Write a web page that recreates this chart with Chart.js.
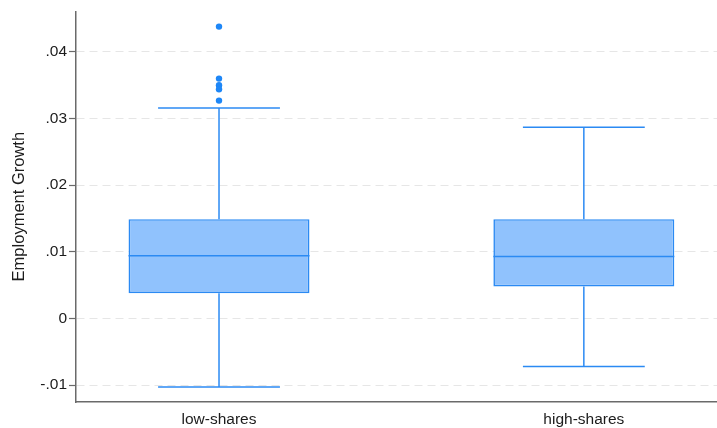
<!DOCTYPE html>
<html>
<head>
<meta charset="utf-8">
<script src="https://cdn.jsdelivr.net/npm/chart.js@4/dist/chart.umd.min.js"></script>
<style>
  html, body { margin: 0; padding: 0; background: #ffffff; }
  #wrap { width: 717px; height: 428px; }
</style>
</head>
<body>
<div id="wrap"><canvas id="c" width="717" height="428"></canvas></div>
<script>
// Box plot summary per group
const categories  = ['low-shares', 'high-shares'];
const whiskerLow  = [-0.0103, -0.0072];
const q1          = [0.0038, 0.0048];
const median      = [0.0094, 0.0093];
const q3          = [0.0149, 0.0149];
const whiskerHigh = [0.0316, 0.0287];
const outliers    = [[0.0438, 0.0360, 0.0350, 0.0344, 0.0327], []];

// Y axis ticks and their labels
const yTicks      = [-0.01, 0, 0.01, 0.02, 0.03, 0.04];
const yTickLabels = ['-.01', '0', '.01', '.02', '.03', '.04'];

const STROKE = '#2b8af3';
const FILL = '#90c2fd';
const POINT = '#1e87f7';
const BOX_HALF = 0.248;  // half box width, x units
const CAP_HALF = 0.167;  // half whisker-cap width, x units

const datasets = [];

// boxes as floating bars from Q1 to Q3
datasets.push({
  type: 'bar',
  data: categories.map((c, i) => ({ x: i + 1, y: [q1[i], q3[i]] })),
  backgroundColor: FILL,
  borderColor: STROKE,
  borderWidth: 1.6,
  borderSkipped: false,
  barPercentage: 1,
  categoryPercentage: BOX_HALF * 2,
  order: 2
});

function segment(x0, y0, x1, y1) {
  return {
    type: 'line',
    data: [{ x: x0, y: y0 }, { x: x1, y: y1 }],
    borderColor: STROKE,
    borderWidth: 1.5,
    pointRadius: 0,
    fill: false,
    tension: 0,
    order: 1
  };
}

categories.forEach((c, i) => {
  const x = i + 1;
  datasets.push(segment(x - BOX_HALF, median[i], x + BOX_HALF, median[i]));
  datasets.push(segment(x, q3[i], x, whiskerHigh[i]));
  datasets.push(segment(x, q1[i], x, whiskerLow[i]));
  datasets.push(segment(x - CAP_HALF, whiskerHigh[i], x + CAP_HALF, whiskerHigh[i]));
  datasets.push(segment(x - CAP_HALF, whiskerLow[i], x + CAP_HALF, whiskerLow[i]));
});

// outside values
datasets.push({
  type: 'scatter',
  data: outliers.flatMap((arr, i) => arr.map(v => ({ x: i + 1, y: v }))),
  backgroundColor: POINT,
  borderColor: POINT,
  pointRadius: 3.2,
  pointBorderWidth: 0,
  order: 0
});

const FAMILY = '"Liberation Sans", Arial, sans-serif';
const FONT = { family: FAMILY, size: 15.5 };
const TEXT = '#1c1c1c';
const AXIS = '#6a6a6a';

new Chart(document.getElementById('c'), {
  type: 'bar',
  data: { datasets },
  options: {
    responsive: false,
    animation: false,
    layout: { autoPadding: false, padding: { top: 9, left: 0, right: 0, bottom: 0 } },
    plugins: {
      legend: { display: false },
      tooltip: { enabled: false }
    },
    scales: {
      x: {
        type: 'linear',
        offset: false,
        min: 0.608,
        max: 2.365,
        grid: { display: false, drawTicks: false, offset: false },
        border: { display: true, color: AXIS, width: 1.5 },
        ticks: {
          font: FONT,
          color: TEXT,
          padding: 8,
          maxRotation: 0,
          callback: v => categories[Math.round(v) - 1]
        },
        afterBuildTicks: s => { s.ticks = categories.map((c, i) => ({ value: i + 1 })); },
        afterFit: s => { s.height = 26; s.paddingRight = 0; s.paddingLeft = 0; }
      },
      y: {
        type: 'linear',
        min: -0.01254,
        max: 0.0461,
        grid: {
          color: '#e6e6e6',
          lineWidth: 1,
          drawTicks: true,
          tickLength: 7,
          tickColor: AXIS,
          tickWidth: 1.2,
          tickBorderDash: []
        },
        border: { display: true, color: AXIS, width: 1.5, dash: [8, 5] },
        ticks: {
          font: FONT,
          color: TEXT,
          padding: 2,
          callback: (v) => {
            const k = yTicks.findIndex(t => Math.abs(t - v) < 1e-9);
            return k >= 0 ? yTickLabels[k] : '';
          }
        },
        afterBuildTicks: s => { s.ticks = yTicks.map(v => ({ value: v })); },
        afterFit: s => { s.width = 76; },
        title: {
          display: true,
          text: 'Employment Growth',
          font: { family: FAMILY, size: 16.5, lineHeight: 1 },
          color: TEXT,
          padding: { top: 11, bottom: 0 }
        }
      }
    }
  }
});
</script>
</body>
</html>
